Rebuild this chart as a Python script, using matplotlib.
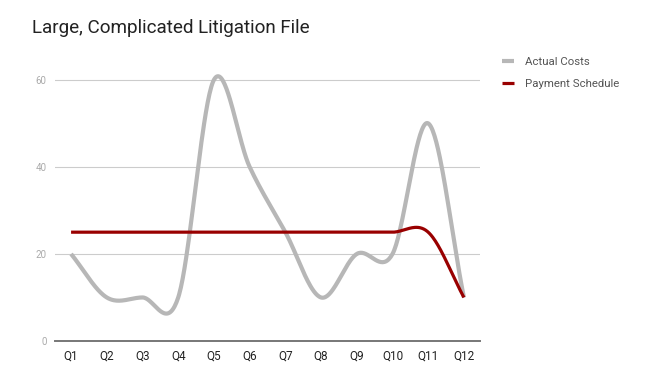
import matplotlib
matplotlib.use("Agg")
import matplotlib.pyplot as plt
import numpy as np

# Data
quarters = ["Q1", "Q2", "Q3", "Q4", "Q5", "Q6", "Q7", "Q8", "Q9", "Q10", "Q11", "Q12"]
actual_costs = [20, 10, 10, 10, 60, 40, 25, 10, 20, 20, 50, 10]
payment_schedule = [25, 25, 25, 25, 25, 25, 25, 25, 25, 25, 25, 10]
y_ticks = [0, 20, 40, 60]

TITLE = "Large, Complicated Litigation File"
GREY = "#b7b7b7"
RED = "#990000"

plt.rcParams["font.family"] = ["Roboto", "DejaVu Sans"]


def smooth(values, steps=40):
    """Catmull-Rom curve through the points (like the sheet's smoothed line)."""
    y = np.asarray(values, dtype=float)
    n = len(y)
    m = np.empty(n)
    m[1:-1] = (y[2:] - y[:-2]) / 2
    m[0] = y[1] - y[0]
    m[-1] = y[-1] - y[-2]
    xs, ys = [], []
    t = np.linspace(0, 1, steps, endpoint=False)
    h00 = 2 * t**3 - 3 * t**2 + 1
    h10 = t**3 - 2 * t**2 + t
    h01 = -2 * t**3 + 3 * t**2
    h11 = t**3 - t**2
    for i in range(n - 1):
        xs.append(i + t)
        ys.append(h00 * y[i] + h10 * m[i] + h01 * y[i + 1] + h11 * m[i + 1])
    xs.append([n - 1])
    ys.append([y[-1]])
    return np.concatenate(xs), np.concatenate(ys)


fig = plt.figure(figsize=(6.51, 3.88), dpi=100)
ax = fig.add_axes([55 / 651, 1 - 341 / 388, 425 / 651, (341 - 72) / 388])

x = np.arange(len(quarters))
for y in y_ticks[1:]:
    ax.axhline(y, color="#cccccc", linewidth=0.8, zorder=0)

sx, sy = smooth(actual_costs)
ax.plot(sx, sy, color=GREY, linewidth=3, solid_capstyle="butt",
        label="Actual Costs", clip_on=False)
sx, sy = smooth(payment_schedule)
ax.plot(sx, sy, color=RED, linewidth=2.3, solid_capstyle="butt",
        label="Payment Schedule", clip_on=False)

ax.set_xlim(-0.45, len(quarters) - 0.55)
ax.set_ylim(0, 61.8)
ax.set_xticks(x)
ax.set_xticklabels(quarters, fontsize=8.5, color="#222222")
ax.set_yticks(y_ticks)
ax.set_yticklabels([str(v) for v in y_ticks], fontsize=7, color="#aaaaaa")
ax.tick_params(length=0)
ax.tick_params(axis="x", pad=6)
ax.tick_params(axis="y", pad=6)

for side in ["top", "right", "left"]:
    ax.spines[side].set_visible(False)
ax.spines["bottom"].set_color("#777777")
ax.spines["bottom"].set_linewidth(1.4)

fig.text(32 / 651, 1 - 28 / 388, TITLE, fontsize=13.6, color="#222222", va="center")

ax.legend(loc="upper left", bbox_to_anchor=(492 / 651, 1 - 47 / 388),
          bbox_transform=fig.transFigure, frameon=False, fontsize=8.2,
          handlelength=1.0, handletextpad=1.0, labelspacing=1.0,
          labelcolor="#555555")

fig.savefig("out.png", dpi=100)
